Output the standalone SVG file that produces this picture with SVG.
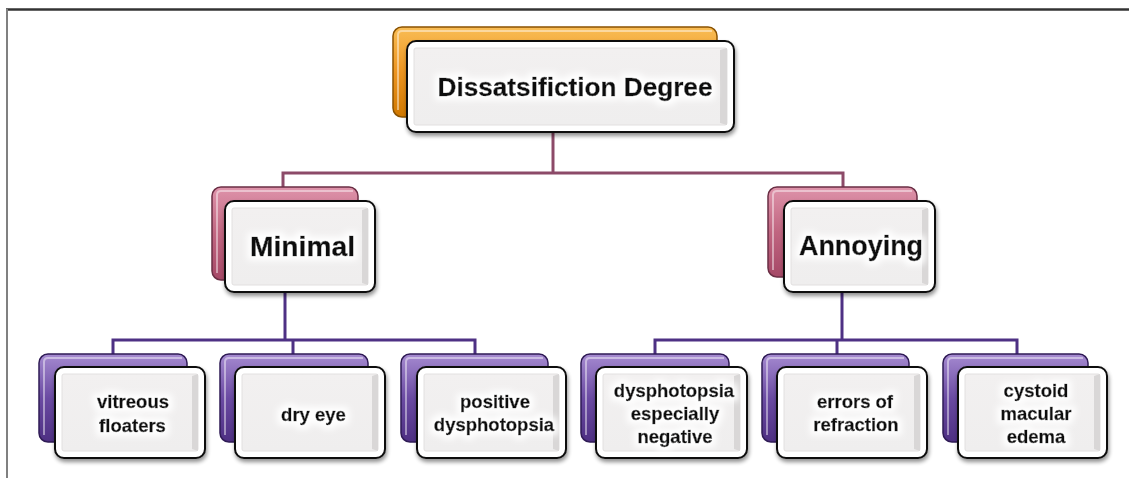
<svg xmlns="http://www.w3.org/2000/svg" width="1129" height="478" viewBox="0 0 1129 478">
<defs>
<linearGradient id="gOr" x1="0" y1="0" x2="0" y2="1"><stop offset="0" stop-color="#f9bd55"/><stop offset="0.5" stop-color="#ec9420"/><stop offset="1" stop-color="#d07800"/></linearGradient>
<linearGradient id="gPk" x1="0" y1="0" x2="0" y2="1"><stop offset="0" stop-color="#de93aa"/><stop offset="0.5" stop-color="#c06580"/><stop offset="1" stop-color="#a54866"/></linearGradient>
<linearGradient id="gPu" x1="0" y1="0" x2="0" y2="1"><stop offset="0" stop-color="#a58ad0"/><stop offset="0.5" stop-color="#6a4aa2"/><stop offset="1" stop-color="#4d2f82"/></linearGradient>
<linearGradient id="gIn" x1="0" y1="0" x2="0" y2="1"><stop offset="0" stop-color="#f2f0f0"/><stop offset="1" stop-color="#efeeee"/></linearGradient>
<filter id="sh" x="-10%" y="-10%" width="120%" height="130%"><feGaussianBlur in="SourceAlpha" stdDeviation="2"/><feOffset dx="1" dy="3"/><feComponentTransfer><feFuncA type="linear" slope="0.45"/></feComponentTransfer><feMerge><feMergeNode/><feMergeNode in="SourceGraphic"/></feMerge></filter>
<filter id="glow" x="-20%" y="-50%" width="140%" height="200%"><feMorphology in="SourceAlpha" operator="dilate" radius="4" result="d"/><feGaussianBlur in="d" stdDeviation="3" result="b"/><feFlood flood-color="#ffffff" result="f"/><feComposite in="f" in2="b" operator="in" result="g"/><feMerge><feMergeNode in="g"/><feMergeNode in="SourceGraphic"/></feMerge></filter>
</defs>
<style>
.border-top{stroke:#333;stroke-width:2.5;fill:none}
.border-left{stroke:#808080;stroke-width:2;fill:none}
.back{stroke-width:1.5}
.or{fill:url(#gOr);stroke:#8a5200}
.pk{fill:url(#gPk);stroke:#6a2e44}
.pu{fill:url(#gPu);stroke:#2f1b55}
.hl{fill:none;stroke:#ffffff;stroke-opacity:0.45;stroke-width:2}
.front{fill:#ffffff;stroke:#111;stroke-width:2}
.inner{fill:url(#gIn);stroke:#e2e0e0;stroke-width:1}
.edge{fill:#d9d7d7}
.c-top{stroke:#8c4a68;stroke-width:3;fill:none}
.c-bot{stroke:#4e3184;stroke-width:3;fill:none}
text{font-family:"Liberation Sans",Arial,sans-serif;font-weight:bold;fill:#0a0a0a;stroke:#0a0a0a;stroke-width:0.5;text-anchor:middle}
.t1{font-size:26px}
.t2{font-size:27px}
.t3{font-size:18.5px}
</style>
<rect x="0" y="0" width="1129" height="478" fill="#ffffff"/>
<path class="border-top" d="M6,9.5 H1129"/>
<path class="border-left" d="M7,9 V478"/>

<g id="connectors">
<path class="c-top" d="M553,132 V173"/>
<path class="c-top" d="M283,188 V173 H843 V188"/>
<path class="c-bot" d="M285,292 V340"/>
<path class="c-bot" d="M113,355 V340 H475 V355 M293,340 V355"/>
<path class="c-bot" d="M842,292 V340"/>
<path class="c-bot" d="M655,355 V340 H1017 V355 M837,340 V355"/>
</g>

<g id="node-root">
<rect class="back or" x="393" y="27" width="324" height="90" rx="9"/>
<path class="hl" d="M398,110 V35 Q398,31 402,31 H712"/>
<g filter="url(#sh)"><rect class="front" x="407" y="41" width="327" height="91" rx="9"/></g>
<rect class="inner" x="414" y="48" width="313" height="77" rx="2"/>
<path class="edge" d="M720,50 L727,48 V125 L720,123 Z"/>
<text class="t1" x="575" y="96" textLength="275" lengthAdjust="spacingAndGlyphs" filter="url(#glow)">Dissatsifiction Degree</text>
</g>

<g id="node-minimal">
<rect class="back pk" x="212" y="187" width="146" height="93" rx="9"/>
<path class="hl" d="M217,273 V195 Q217,191 221,191 H353"/>
<g filter="url(#sh)"><rect class="front" x="225" y="201" width="150" height="91" rx="9"/></g>
<rect class="inner" x="232" y="208" width="136" height="77" rx="2"/>
<path class="edge" d="M362,210 L368,208 V285 L362,283 Z"/>
<text class="t2" x="302.5" y="256" textLength="105" lengthAdjust="spacingAndGlyphs" filter="url(#glow)">Minimal</text>
</g>

<g id="node-annoying">
<rect class="back pk" x="768" y="187" width="149" height="90" rx="9"/>
<path class="hl" d="M773,270 V195 Q773,191 777,191 H912"/>
<g filter="url(#sh)"><rect class="front" x="784" y="201" width="151" height="91" rx="9"/></g>
<rect class="inner" x="791" y="208" width="137" height="77" rx="2"/>
<path class="edge" d="M922,210 L928,208 V285 L922,283 Z"/>
<text class="t2" x="861" y="255" textLength="124" lengthAdjust="spacingAndGlyphs" filter="url(#glow)">Annoying</text>
</g>

<g id="node-vitreous">
<rect class="back pu" x="39" y="354" width="148" height="88" rx="9"/>
<path class="hl" d="M44,435 V362 Q44,358 48,358 H182"/>
<g filter="url(#sh)"><rect class="front" x="55" y="367" width="150" height="91" rx="9"/></g>
<rect class="inner" x="62" y="374" width="136" height="77" rx="2"/>
<path class="edge" d="M192,376 L198,374 V451 L192,449 Z"/>
<text class="t3" x="133" y="408" filter="url(#glow)">vitreous</text>
<text class="t3" x="132.5" y="432" filter="url(#glow)">floaters</text>
</g>

<g id="node-dryeye">
<rect class="back pu" x="220" y="354" width="148" height="88" rx="9"/>
<path class="hl" d="M225,435 V362 Q225,358 229,358 H363"/>
<g filter="url(#sh)"><rect class="front" x="235" y="367" width="150" height="91" rx="9"/></g>
<rect class="inner" x="242" y="374" width="136" height="77" rx="2"/>
<path class="edge" d="M372,376 L378,374 V451 L372,449 Z"/>
<text class="t3" x="313.5" y="421" filter="url(#glow)">dry eye</text>
</g>

<g id="node-positive">
<rect class="back pu" x="401" y="354" width="147" height="88" rx="9"/>
<path class="hl" d="M406,435 V362 Q406,358 410,358 H543"/>
<g filter="url(#sh)"><rect class="front" x="417" y="367" width="149" height="91" rx="9"/></g>
<rect class="inner" x="424" y="374" width="135" height="77" rx="2"/>
<path class="edge" d="M553,376 L559,374 V451 L553,449 Z"/>
<text class="t3" x="495" y="408" filter="url(#glow)">positive</text>
<text class="t3" x="494" y="431" filter="url(#glow)">dysphotopsia</text>
</g>

<g id="node-dysphotopsia">
<rect class="back pu" x="581" y="354" width="148" height="88" rx="9"/>
<path class="hl" d="M586,435 V362 Q586,358 590,358 H724"/>
<g filter="url(#sh)"><rect class="front" x="596" y="367" width="151" height="91" rx="9"/></g>
<rect class="inner" x="603" y="374" width="137" height="77" rx="2"/>
<path class="edge" d="M734,376 L740,374 V451 L734,449 Z"/>
<text class="t3" x="674" y="397" filter="url(#glow)">dysphotopsia</text>
<text class="t3" x="675" y="420" filter="url(#glow)">especially</text>
<text class="t3" x="675" y="443" filter="url(#glow)">negative</text>
</g>

<g id="node-errors">
<rect class="back pu" x="762" y="354" width="147" height="88" rx="9"/>
<path class="hl" d="M767,435 V362 Q767,358 771,358 H904"/>
<g filter="url(#sh)"><rect class="front" x="777" y="367" width="150" height="91" rx="9"/></g>
<rect class="inner" x="784" y="374" width="136" height="77" rx="2"/>
<path class="edge" d="M914,376 L920,374 V451 L914,449 Z"/>
<text class="t3" x="855" y="408" filter="url(#glow)">errors of</text>
<text class="t3" x="856" y="431" filter="url(#glow)">refraction</text>
</g>

<g id="node-cystoid">
<rect class="back pu" x="943" y="354" width="145" height="88" rx="9"/>
<path class="hl" d="M948,435 V362 Q948,358 952,358 H1083"/>
<g filter="url(#sh)"><rect class="front" x="958" y="367" width="149" height="91" rx="9"/></g>
<rect class="inner" x="965" y="374" width="135" height="77" rx="2"/>
<path class="edge" d="M1094,376 L1100,374 V451 L1094,449 Z"/>
<text class="t3" x="1036" y="397" filter="url(#glow)">cystoid</text>
<text class="t3" x="1036" y="420" filter="url(#glow)">macular</text>
<text class="t3" x="1036" y="443" filter="url(#glow)">edema</text>
</g>
</svg>
